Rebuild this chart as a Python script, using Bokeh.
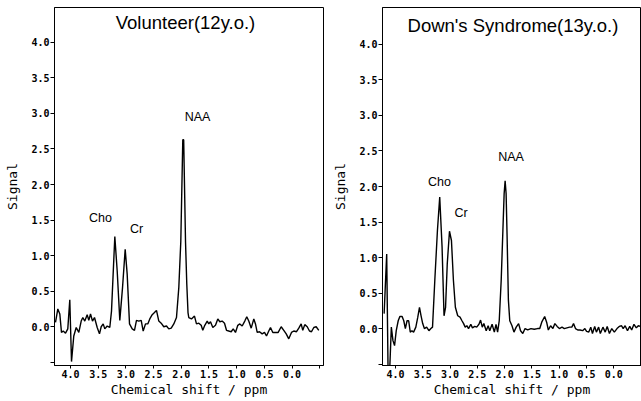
from bokeh.plotting import figure
from bokeh.models import Range1d, FixedTicker, Label
from bokeh.layouts import row
from bokeh.embed import file_html
from bokeh.resources import INLINE

# ---- data -------------------------------------------------------------
x_ticks = [4.0, 3.5, 3.0, 2.5, 2.0, 1.5, 1.0, 0.5, 0.0, -0.5]
x_tick_labels = ["4.0", "3.5", "3.0", "2.5", "2.0", "1.5", "1.0", "0.5", "0.0", ""]
y_ticks = [-0.5, 0.0, 0.5, 1.0, 1.5, 2.0, 2.5, 3.0, 3.5, 4.0]
y_tick_labels = ["", "0.0", "0.5", "1.0", "1.5", "2.0", "2.5", "3.0", "3.5", "4.0"]

vol_ppm = [4.271, 4.229, 4.193, 4.163, 4.132, 4.090, 4.049, 4.013, 3.982, 3.941,
           3.897, 3.850, 3.807, 3.778, 3.742, 3.699, 3.670, 3.639, 3.603, 3.567,
           3.518, 3.477, 3.446, 3.410, 3.381, 3.338, 3.291, 3.260, 3.200, 3.157,
           3.110, 3.061, 3.013, 2.977, 2.935, 2.886, 2.845, 2.809, 2.767, 2.724,
           2.688, 2.646, 2.605, 2.569, 2.525, 2.484, 2.448, 2.406, 2.363, 2.316,
           2.267, 2.226, 2.182, 2.135, 2.087, 2.045, 2.009, 1.973, 1.957, 1.924,
           1.901, 1.879, 1.865, 1.816, 1.762, 1.726, 1.684, 1.641, 1.612, 1.576,
           1.532, 1.504, 1.473, 1.431, 1.383, 1.341, 1.305, 1.262, 1.220, 1.184,
           1.143, 1.099, 1.063, 1.022, 0.980, 0.944, 0.901, 0.854, 0.818, 0.782,
           0.738, 0.691, 0.661, 0.630, 0.588, 0.540, 0.498, 0.462, 0.421, 0.390,
           0.348, 0.300, 0.251, 0.197, 0.150, 0.106, 0.060, 0.011, -0.031, -0.080,
           -0.121, -0.164, -0.193, -0.229, -0.273, -0.314, -0.350, -0.392, -0.435, -0.482]
vol_signal = [0.06, 0.25, 0.18, -0.08, -0.06, -0.09, -0.03, 0.38, -0.49, -0.13,
              -0.01, -0.08, 0.08, 0.13, 0.08, 0.17, 0.09, 0.18, 0.08, 0.13,
              -0.01, -0.10, 0.00, 0.04, -0.03, 0.01, -0.01, 0.22, 1.27, 0.78,
              0.09, 0.55, 1.09, 0.74, 0.04, -0.03, -0.05, 0.09, 0.08, 0.09,
              -0.06, 0.04, 0.04, 0.11, 0.17, 0.20, 0.23, 0.08, 0.05, 0.00,
              0.01, -0.03, -0.02, 0.04, 0.13, 0.55, 1.20, 2.63, 2.63, 1.20,
              0.60, 0.20, 0.13, 0.11, 0.15, 0.04, 0.05, 0.02, -0.05, 0.02,
              0.08, 0.04, 0.07, -0.01, 0.02, 0.11, 0.07, 0.08, 0.05, -0.05,
              -0.06, -0.07, -0.03, -0.08, 0.02, 0.04, 0.01, 0.08, 0.14, 0.08,
              -0.02, 0.11, 0.04, -0.08, -0.07, -0.10, -0.08, -0.13, -0.06, -0.01,
              -0.08, -0.08, -0.08, 0.00, -0.05, -0.10, -0.17, -0.08, -0.06, -0.07,
              -0.02, 0.04, -0.05, 0.03, 0.00, -0.06, -0.07, -0.01, 0.00, -0.05]

ds_ppm = [4.209, 4.162, 4.137, 4.108, 4.077, 4.047, 4.018, 3.987, 3.951, 3.921,
          3.879, 3.849, 3.820, 3.789, 3.759, 3.730, 3.700, 3.669, 3.628, 3.592,
          3.561, 3.532, 3.502, 3.471, 3.430, 3.388, 3.352, 3.322, 3.280, 3.232,
          3.190, 3.147, 3.111, 3.083, 3.052, 3.011, 2.975, 2.939, 2.903, 2.860,
          2.818, 2.782, 2.752, 2.723, 2.692, 2.662, 2.620, 2.590, 2.548, 2.512,
          2.471, 2.441, 2.410, 2.381, 2.338, 2.302, 2.273, 2.230, 2.189, 2.158,
          2.129, 2.099, 2.063, 2.032, 2.009, 1.991, 1.973, 1.955, 1.931, 1.906,
          1.865, 1.829, 1.788, 1.744, 1.708, 1.667, 1.626, 1.577, 1.518, 1.457,
          1.397, 1.356, 1.320, 1.266, 1.230, 1.199, 1.158, 1.115, 1.079, 1.037,
          0.996, 0.948, 0.906, 0.858, 0.809, 0.768, 0.737, 0.701, 0.660, 0.618,
          0.570, 0.529, 0.498, 0.457, 0.421, 0.390, 0.349, 0.318, 0.277, 0.246,
          0.198, 0.156, 0.120, 0.079, 0.036, -0.011, -0.060, -0.101, -0.144, -0.173,
          -0.209, -0.252, -0.294, -0.329, -0.371, -0.414, -0.450, -0.491]
ds_signal = [0.21, 1.05, -0.60, -0.60, 0.02, -0.17, -0.24, -0.03, 0.11, 0.17,
             0.17, 0.11, 0.00, 0.11, 0.11, -0.05, -0.03, -0.05, 0.02, 0.16,
             0.30, 0.18, 0.07, 0.00, 0.02, -0.03, 0.00, 0.02, 0.68, 1.38,
             1.85, 1.15, 0.18, 0.30, 0.91, 1.37, 1.24, 0.68, 0.30, 0.18,
             0.16, 0.11, 0.07, 0.02, 0.04, 0.00, 0.06, 0.01, 0.03, 0.02,
             0.06, 0.12, 0.02, 0.07, -0.03, 0.04, -0.03, 0.06, -0.05, 0.06,
             -0.05, 0.11, 0.68, 1.38, 1.90, 2.08, 1.90, 1.30, 0.40, 0.11,
             0.04, -0.05, 0.02, 0.07, -0.03, -0.07, 0.00, -0.02, 0.00, -0.01,
             0.00, 0.00, 0.09, 0.17, 0.09, -0.02, 0.04, 0.00, 0.07, 0.03,
             0.00, 0.02, 0.00, 0.01, 0.02, 0.02, 0.07, 0.00, -0.02, -0.02,
             -0.03, 0.00, -0.04, -0.05, 0.02, -0.07, 0.03, -0.05, 0.02, -0.07,
             0.02, -0.05, 0.03, -0.07, 0.00, -0.05, 0.00, 0.03, 0.04, 0.00,
             0.04, -0.03, 0.03, -0.02, 0.06, 0.01, 0.04, 0.03]

panels = [
    dict(title="Volunteer(12y.o.)", x=vol_ppm, y=vol_signal,
         xr=(4.289, -0.567), yr=(-0.545, 4.49),
         width=330, bl=54, br=7, bt=5,
         title_pos=(1.924, 4.28),
         peaks=[("Cho", 3.458, 1.53), ("Cr", 2.809, 1.37), ("NAA", 1.707, 2.95)]),
    dict(title="Down's Syndrome(13y.o.)", x=ds_ppm, y=ds_signal,
         xr=(4.239, -0.509), yr=(-0.52, 4.52),
         width=311, bl=47, br=0, bt=7,
         title_pos=(1.847, 4.27),
         peaks=[("Cho", 3.196, 2.06), ("Cr", 2.800, 1.62), ("NAA", 1.883, 2.41)]),
]

MONO = "DejaVu Sans Mono"
SANS = "Liberation Sans"

figs = []
for d in panels:
    p = figure(width=d["width"], height=401, output_backend="svg", toolbar_location=None,
               x_range=Range1d(*d["xr"]), y_range=Range1d(*d["yr"]),
               min_border_left=d["bl"], min_border_right=d["br"],
               min_border_top=d["bt"], min_border_bottom=36)
    p.background_fill_color = "white"
    p.border_fill_color = "white"
    p.outline_line_color = "black"
    p.outline_line_width = 1
    p.grid.visible = False

    p.line(d["x"], d["y"], line_color="black", line_width=1.4)

    xa = p.xaxis[0]
    xa.ticker = FixedTicker(ticks=x_ticks)
    xa.major_label_overrides = {t: s for t, s in zip(x_ticks, x_tick_labels)}
    xa.axis_label = "Chemical shift / ppm"
    ya = p.yaxis[0]
    ya.ticker = FixedTicker(ticks=y_ticks)
    ya.major_label_overrides = {t: s for t, s in zip(y_ticks, y_tick_labels)}
    ya.axis_label = "Signal"
    for ax in (xa, ya):
        ax.minor_tick_line_color = None
        ax.major_tick_in = 0
        ax.axis_line_color = "black"
        ax.major_tick_line_color = "black"
        ax.major_label_text_font = MONO
        ax.major_label_text_font_style = "bold"
        ax.major_label_text_font_size = "10px"
        ax.major_label_text_color = "black"
        ax.axis_label_text_font = MONO
        ax.axis_label_text_font_style = "normal"
        ax.axis_label_text_font_size = "13px"
        ax.axis_label_text_color = "black"
    xa.major_tick_out = 3
    xa.major_label_standoff = 1
    xa.axis_label_standoff = 1
    ya.major_tick_out = 4
    ya.major_label_standoff = 1
    ya.axis_label_standoff = 8

    tx, ty = d["title_pos"]
    p.add_layout(Label(x=tx, y=ty, text=d["title"], text_font=SANS,
                       text_font_size="18.5px", text_align="center",
                       text_baseline="middle", text_color="black"))
    for name, lx, ly in d["peaks"]:
        p.add_layout(Label(x=lx, y=ly, text=name, text_font=SANS,
                           text_font_size="12.5px", text_align="center",
                           text_baseline="middle", text_color="black"))
    figs.append(p)

layout = row(*figs)
open("out.html", "w").write(file_html(layout, INLINE))
